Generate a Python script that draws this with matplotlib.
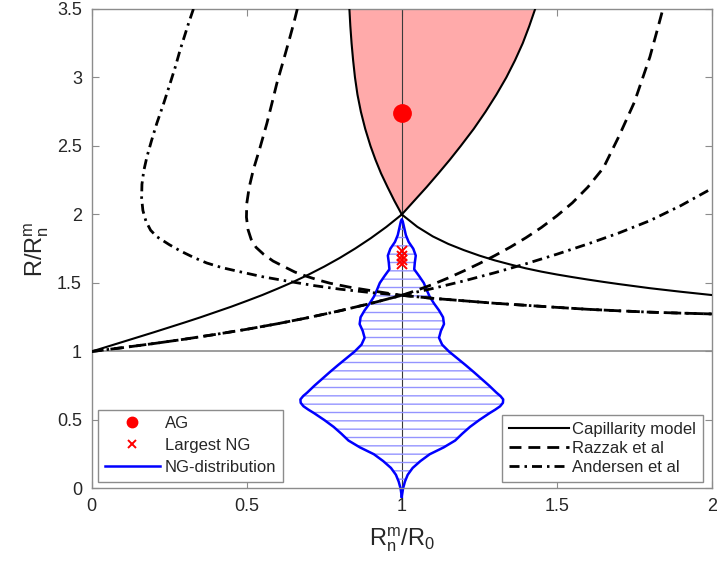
import numpy as np
import matplotlib
matplotlib.use("Agg")
import matplotlib.pyplot as plt
from matplotlib.lines import Line2D

plt.rcParams['font.family'] = ['Liberation Sans', 'DejaVu Sans']
plt.rcParams['mathtext.fontset'] = 'custom'
plt.rcParams['mathtext.rm'] = 'Liberation Sans'
plt.rcParams['mathtext.it'] = 'Liberation Sans'
plt.rcParams['hatch.linewidth'] = 1.0

# ---- Capillarity model -------------------------------------------------
# lower-left branch, (0,1) -> (1,2)
cap_ll_x = [0.0, 0.05, 0.1, 0.15, 0.2, 0.25, 0.3, 0.35, 0.4, 0.45, 0.5,
            0.55, 0.6, 0.65, 0.7, 0.75, 0.8, 0.85, 0.9, 0.95, 1.0]
cap_ll_y = [1.0, 1.035, 1.070, 1.105, 1.140, 1.176, 1.212, 1.249, 1.288, 1.327, 1.369,
            1.412, 1.459, 1.508, 1.562, 1.620, 1.683, 1.752, 1.827, 1.909, 2.0]
# lower-right branch, (1,2) -> (2,1.41)
cap_lr_x = [1.0, 1.05, 1.1, 1.15, 1.2, 1.25, 1.3, 1.35, 1.4, 1.45, 1.5,
            1.55, 1.6, 1.65, 1.7, 1.75, 1.8, 1.85, 1.9, 1.95, 2.0]
cap_lr_y = [2.0, 1.91, 1.84, 1.785, 1.74, 1.70, 1.665, 1.635, 1.607, 1.583, 1.562,
            1.543, 1.525, 1.508, 1.492, 1.477, 1.462, 1.449, 1.436, 1.424, 1.412]
# upper branches bounding the AG region
cap_up_y = [2.0, 2.05, 2.1, 2.15, 2.2, 2.3, 2.4, 2.5, 2.625, 2.75, 2.875,
            3.0, 3.125, 3.25, 3.375, 3.5]
cap_up_xl = [1.0, 0.988, 0.976, 0.965, 0.954, 0.933, 0.915, 0.899, 0.882, 0.868, 0.857,
             0.849, 0.843, 0.838, 0.834, 0.831]
cap_up_xr = [1.0, 1.02, 1.04, 1.06, 1.08, 1.118, 1.155, 1.19, 1.232, 1.27, 1.305,
             1.337, 1.365, 1.39, 1.411, 1.43]

# ---- shared branches of the empirical correlations ----------------------
low_x = [0.0, 0.1, 0.2, 0.3, 0.4, 0.5, 0.6, 0.7, 0.8, 0.9, 1.0]
low_y = [1.0, 1.028, 1.058, 1.09, 1.125, 1.162, 1.203, 1.248, 1.297, 1.351, 1.41]
tail_x = [1.0, 1.1, 1.2, 1.3, 1.4, 1.5, 1.6, 1.7, 1.8, 1.9, 2.0]
tail_y = [1.41, 1.388, 1.37, 1.352, 1.337, 1.322, 1.308, 1.297, 1.287, 1.28, 1.274]

# ---- Razzak et al ------------------------------------------------------
raz_nose_x = [0.663, 0.652, 0.64, 0.619, 0.597, 0.581, 0.565, 0.543, 0.521, 0.508, 0.5,
              0.499, 0.504, 0.514, 0.53, 0.554, 0.585, 0.618, 0.655, 0.694, 0.73, 0.769,
              0.83, 0.898, 0.95, 1.0]
raz_nose_y = [3.5, 3.4, 3.3, 3.13, 2.957, 2.81, 2.666, 2.49, 2.325, 2.2, 2.08,
              1.98, 1.89, 1.82, 1.76, 1.71, 1.66, 1.622, 1.58, 1.548, 1.522, 1.498,
              1.47, 1.445, 1.427, 1.41]
raz_up_x = [1.0, 1.05, 1.1, 1.15, 1.2, 1.25, 1.3, 1.35, 1.4, 1.45, 1.5, 1.55,
            1.6, 1.65, 1.7, 1.75, 1.8, 1.823, 1.842]
raz_up_y = [1.41, 1.448, 1.49, 1.537, 1.588, 1.642, 1.70, 1.762, 1.83, 1.905, 1.99, 2.085,
            2.20, 2.34, 2.57, 2.82, 3.15, 3.34, 3.5]

# ---- Andersen et al ----------------------------------------------------
and_nose_x = [0.328, 0.313, 0.299, 0.285, 0.27, 0.253, 0.232, 0.21, 0.193, 0.178, 0.168,
              0.162, 0.161, 0.165, 0.175, 0.19, 0.21, 0.25, 0.285, 0.33, 0.371, 0.42,
              0.478, 0.55, 0.64, 0.72, 0.8, 0.9, 1.0]
and_nose_y = [3.5, 3.4, 3.3, 3.2, 3.08, 2.958, 2.81, 2.666, 2.54, 2.42, 2.32,
              2.22, 2.12, 2.03, 1.95, 1.885, 1.838, 1.78, 1.735, 1.685, 1.646, 1.612,
              1.582, 1.546, 1.51, 1.48, 1.455, 1.43, 1.41]
and_up_x = [1.0, 1.1, 1.2, 1.3, 1.4, 1.5, 1.6, 1.7, 1.8, 1.9, 2.0]
and_up_y = [1.41, 1.46, 1.515, 1.575, 1.64, 1.71, 1.785, 1.865, 1.955, 2.065, 2.19]

# ---- NG size distribution (half-width of the violin about x = 1) -------
violin_y = [-0.06, 0.0, 0.05, 0.1, 0.15, 0.2, 0.25, 0.3, 0.35, 0.4, 0.45, 0.5,
            0.55, 0.575, 0.6, 0.625, 0.65, 0.675, 0.7, 0.75, 0.8, 0.85, 0.9, 0.95,
            1.0, 1.05, 1.1, 1.15, 1.2, 1.25, 1.3, 1.35, 1.4, 1.45, 1.5, 1.55, 1.6,
            1.65, 1.7, 1.75, 1.8, 1.85, 1.9, 1.95, 1.965]
violin_hw = [0.0, 0.004, 0.01, 0.019, 0.035, 0.06, 0.09, 0.135, 0.172, 0.195, 0.22, 0.25,
             0.283, 0.301, 0.317, 0.326, 0.327, 0.318, 0.305, 0.282, 0.257, 0.232, 0.206,
             0.179, 0.152, 0.13, 0.12, 0.126, 0.136, 0.133, 0.12, 0.104, 0.09, 0.08,
             0.071, 0.056, 0.04, 0.042, 0.045, 0.037, 0.022, 0.013, 0.008, 0.003, 0.0]

ag_x, ag_y = 1.0, 2.74
ng_largest = [1.73, 1.70, 1.67, 1.64]

x_ticks = [0, 0.5, 1, 1.5, 2]
x_tick_labels = ['0', '0.5', '1', '1.5', '2']
y_ticks = [0, 0.5, 1, 1.5, 2, 2.5, 3, 3.5]
y_tick_labels = ['0', '0.5', '1', '1.5', '2', '2.5', '3', '3.5']

# ---- figure --------------------------------------------------------------
fig = plt.figure(figsize=(7.17, 5.69), dpi=100)
ax = fig.add_axes([0.1279, 0.1415, 0.865, 0.8427])
ax.set_xlim(0, 2)
ax.set_ylim(0, 3.5)

spine_col = '#8c8c8c'
text_col = '#262626'

# AG region
ax.fill_betweenx(cap_up_y, cap_up_xl, cap_up_xr, facecolor='#ffaaaa', linewidth=0, zorder=1)

# reference lines
ax.plot([1, 1], [0, 3.5], color='#3a3a3a', lw=0.8, zorder=1.6)
ax.axhline(1, color='#8c8c8c', lw=1.2, zorder=1.5)

# NG violin
vy = np.array(violin_y)
vhw = np.array(violin_hw)
ax.fill_betweenx(vy, 1 - vhw, 1 + vhw, facecolor='none', edgecolor='#9494ff',
                 hatch='--', linewidth=0, zorder=2)
ax.plot(np.concatenate([1 - vhw, (1 + vhw)[::-1]]), np.concatenate([vy, vy[::-1]]),
        color='blue', lw=1.8, zorder=2.2, clip_on=False, solid_joinstyle='round')

# model curves
lw_s, lw_d = 1.5, 2.0
dash = (4.3, 2.5)
dashdot = (3.6, 1.8, 0.9, 1.8)
for xs, ys in [(cap_ll_x, cap_ll_y), (cap_lr_x, cap_lr_y),
               (cap_up_xl, cap_up_y), (cap_up_xr, cap_up_y)]:
    ax.plot(xs, ys, color='black', lw=lw_s, zorder=3)
for xs, ys in [(low_x, low_y), (raz_up_x, raz_up_y),
               (raz_nose_x, raz_nose_y), (tail_x, tail_y)]:
    ax.plot(xs, ys, color='black', lw=lw_d, dashes=dash, zorder=3)
for xs, ys in [(low_x, low_y), (and_up_x, and_up_y),
               (and_nose_x, and_nose_y), (tail_x, tail_y)]:
    ax.plot(xs, ys, color='black', lw=lw_d, dashes=dashdot, zorder=3)

# markers
ax.plot([ag_x], [ag_y], 'o', color='red', ms=12.5, zorder=4)
ax.plot([1.0] * len(ng_largest), ng_largest, 'x', color='red', ms=7, mew=1.4, zorder=4)

# axes styling
ax.set_xticks(x_ticks)
ax.set_xticklabels(x_tick_labels)
ax.set_yticks(y_ticks)
ax.set_yticklabels(y_tick_labels)
ax.tick_params(direction='in', length=5, width=0.8, top=True, right=True,
               labelsize=13, pad=7, color=spine_col, labelcolor=text_col)
for s in ax.spines.values():
    s.set_color(spine_col)
    s.set_linewidth(1.0)

ax.set_xlabel(r'$\mathrm{R_n^m/R_0}$', fontsize=17, color=text_col, labelpad=7)
ax.set_ylabel(r'$\mathrm{R/R_n^m}$', fontsize=17, color=text_col, labelpad=4)

# legends
h_left = [
    Line2D([], [], ls='none', marker='o', color='red', ms=7.5, label='AG'),
    Line2D([], [], ls='none', marker='x', color='red', ms=6, mew=1.4, label='Largest NG'),
    Line2D([], [], color='blue', lw=1.8, label='NG-distribution'),
]
leg1 = ax.legend(handles=h_left, loc='lower left', bbox_to_anchor=(0.010, 0.0136),
                 borderaxespad=0, fontsize=12, handlelength=3.3, handletextpad=0.3,
                 labelspacing=0.42, borderpad=0.4, fancybox=False, framealpha=1,
                 edgecolor='#8c8c8c')
for t in leg1.get_texts():
    t.set_color(text_col)
leg1.get_frame().set_linewidth(1.0)
ax.add_artist(leg1)

h_right = [
    Line2D([], [], color='black', lw=lw_s, label='Capillarity model'),
    Line2D([], [], color='black', lw=lw_d, dashes=dash, label='Razzak et al'),
    Line2D([], [], color='black', lw=lw_d, dashes=dashdot, label='Andersen et al'),
]
leg2 = ax.legend(handles=h_right, loc='lower right', bbox_to_anchor=(0.9855, 0.0136),
                 borderaxespad=0, fontsize=12, handlelength=3.6, handletextpad=0.2,
                 labelspacing=0.25, borderpad=0.4, fancybox=False, framealpha=1,
                 edgecolor='#8c8c8c')
for t in leg2.get_texts():
    t.set_color(text_col)
leg2.get_frame().set_linewidth(1.0)

fig.savefig('out.png', dpi=100)
